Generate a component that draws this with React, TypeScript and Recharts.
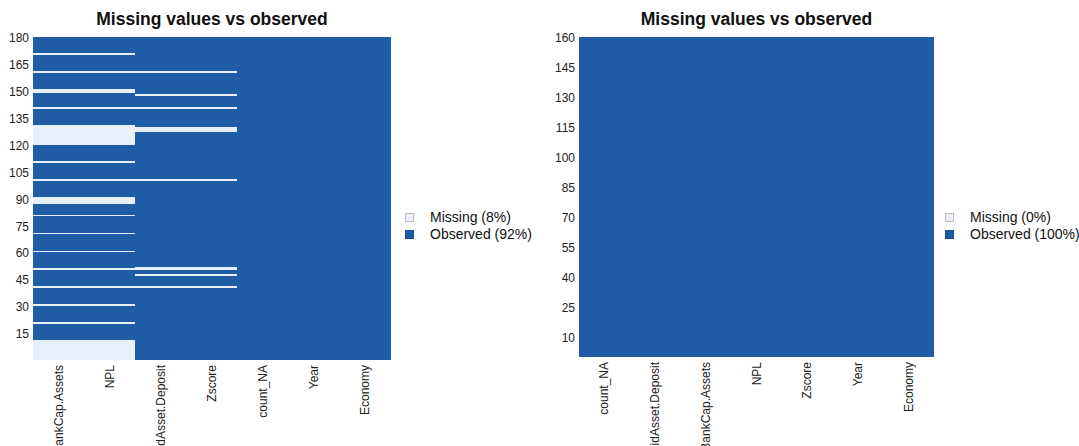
import { BarChart, Bar, XAxis, YAxis, CartesianGrid } from 'recharts'

const OBSERVED = '#1f5ca6'
const MISSING = '#e9effb'
const FONT = '"Liberation Sans", Arial, sans-serif'

// left map: 180 rows
const leftColumns = ['BankCap.Assets', 'NPL', 'LiquidAsset.Deposit', 'Zscore', 'count_NA', 'Year', 'Economy']
const leftRowCount = 180
const leftTicks = [15, 30, 45, 60, 75, 90, 105, 120, 135, 150, 165, 180]
const bankCapMissing = [1, 2, 3, 4, 5, 6, 7, 8, 9, 10, 11, 21, 31, 41, 51, 61, 71, 81, 88, 89, 90, 91, 101, 111,
  121, 122, 123, 124, 125, 126, 127, 128, 129, 130, 131, 141, 150, 151, 161, 171]
const nplMissing = [1, 2, 3, 4, 5, 6, 7, 8, 9, 10, 11, 21, 31, 41, 51, 61, 71, 81, 88, 89, 90, 91, 101, 111,
  121, 122, 123, 124, 125, 126, 127, 128, 129, 130, 131, 141, 150, 151, 161, 171]
const liquidMissing = [41, 48, 51, 52, 101, 128, 129, 130, 141, 148, 161]
const zscoreMissing = [41, 48, 51, 52, 101, 128, 129, 130, 141, 148, 161]
const leftMissing = [bankCapMissing, nplMissing, liquidMissing, zscoreMissing, [], [], []]

// right map: 160 rows, nothing missing
const rightColumns = ['count_NA', 'LiquidAsset.Deposit', 'BankCap.Assets', 'NPL', 'Zscore', 'Year', 'Economy']
const rightRowCount = 160
const rightTicks = [10, 25, 40, 55, 70, 85, 100, 115, 130, 145, 160]
const rightMissing: number[][] = [[], [], [], [], [], [], []]

// run lengths from row 1 upward, even index = missing, odd = observed
function toSegments(missing: number[], rows: number) {
  const set = new Set(missing)
  const segs: number[] = []
  let cur = true
  let len = 0
  for (let r = 1; r <= rows; r++) {
    const m = set.has(r)
    if (m === cur) len++
    else {
      segs.push(len)
      cur = m
      len = 1
    }
  }
  segs.push(len)
  return segs
}

function ColumnTick({ x, y, payload }: any) {
  return (
    <text x={x} y={y} dy={4} transform={`rotate(-90 ${x} ${y})`} textAnchor="end"
      fontSize={12} fill="#222" fontFamily={FONT}>
      {payload.value}
    </text>
  )
}

interface MissMapProps {
  columns: string[]
  missing: number[][]
  rowCount: number
  ticks: number[]
  left: number
  yWidth: number
  plotWidth: number
  plotHeight: number
  legendGap: number
}

function MissMap({ columns, missing, rowCount, ticks, left, yWidth, plotWidth, plotHeight, legendGap }: MissMapProps) {
  const segs = missing.map(m => toSegments(m, rowCount))
  const nSeg = Math.max(...segs.map(s => s.length))
  const data = columns.map((name, i) => {
    const row: Record<string, any> = { name }
    segs[i].forEach((v, k) => { row['s' + k] = v })
    return row
  })
  const missCount = missing.reduce((sum, m) => sum + m.length, 0)
  const pct = Math.round((missCount / (columns.length * rowCount)) * 100)
  const top = 37
  const width = yWidth + plotWidth + 4
  const xHeight = 446 - top - plotHeight
  const plotLeft = left + yWidth

  return (
    <>
      <div style={{
        position: 'absolute', left: plotLeft, width: plotWidth, top: 8, textAlign: 'center',
        fontFamily: FONT, fontWeight: 'bold', fontSize: 17.5, color: '#111', lineHeight: '22px',
      }}>
        Missing values vs observed
      </div>
      <div style={{ position: 'absolute', left, top: 0 }}>
        <BarChart width={width} height={446} data={data} barCategoryGap={0}
          margin={{ top, right: 4, left: 0, bottom: 0 }}>
          <CartesianGrid horizontal={false} vertical={false} fill={OBSERVED} />
          <XAxis dataKey="name" height={xHeight} tick={<ColumnTick />} tickLine={false}
            axisLine={false} tickSize={0} tickMargin={5} interval={0} />
          <YAxis type="number" domain={[0, rowCount]} width={yWidth}
            ticks={ticks.map(t => t - 0.5)} tickFormatter={(v: number) => String(v + 0.5)}
            tick={{ fill: '#222', fontSize: 12, fontFamily: FONT }}
            tickLine={false} axisLine={false} tickSize={0} tickMargin={4} allowDataOverflow />
          {Array.from({ length: nSeg }, (_, k) => (
            <Bar key={k} dataKey={'s' + k} stackId="rows" fill={k % 2 === 0 ? MISSING : OBSERVED}
              isAnimationActive={false} />
          ))}
        </BarChart>
      </div>
      <div style={{
        position: 'absolute', left: plotLeft + plotWidth + legendGap, top: 209,
        fontFamily: FONT, fontSize: 14, color: '#111', lineHeight: '17px', whiteSpace: 'nowrap',
      }}>
        <div style={{ display: 'flex', alignItems: 'center' }}>
          <span style={{ display: 'inline-block', width: 7, height: 7, background: MISSING, border: '1px solid #bbb', marginRight: 16 }} />
          Missing ({pct}%)
        </div>
        <div style={{ display: 'flex', alignItems: 'center' }}>
          <span style={{ display: 'inline-block', width: 7, height: 7, background: OBSERVED, border: '1px solid #1a4f8f', marginRight: 16 }} />
          Observed ({100 - pct}%)
        </div>
      </div>
    </>
  )
}

export default function App() {
  return (
    <div style={{ position: 'absolute', left: 0, top: 0, width: 1079, height: 446, overflow: 'hidden', background: '#fff' }}>
      <style>{'.recharts-bar-rectangle path { shape-rendering: crispEdges; }'}</style>
      <MissMap columns={leftColumns} missing={leftMissing} rowCount={leftRowCount} ticks={leftTicks}
        left={0} yWidth={33} plotWidth={358} plotHeight={323} legendGap={14} />
      <MissMap columns={rightColumns} missing={rightMissing} rowCount={rightRowCount} ticks={rightTicks}
        left={540} yWidth={39} plotWidth={355} plotHeight={320} legendGap={11} />
    </div>
  )
}
